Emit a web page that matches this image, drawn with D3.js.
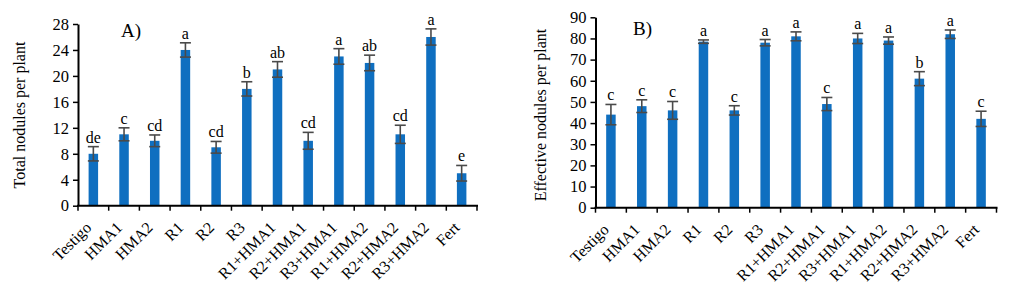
<!DOCTYPE html>
<html>
<head>
<meta charset="utf-8">
<script src="https://cdn.jsdelivr.net/npm/d3@7"></script>
<style>
  body { margin: 0; background: #fff; }
  text { font-family: "Liberation Serif", "Times New Roman", serif; fill: #000; }
</style>
</head>
<body>
<div id="general"></div>
<script>
const treatments = ["Testigo", "HMA1", "HMA2", "R1", "R2", "R3", "R1+HMA1", "R2+HMA1", "R3+HMA1", "R1+HMA2", "R2+HMA2", "R3+HMA2", "Fert"];

const totalNodules = [8, 11, 10, 24, 9, 18, 21, 10, 23, 22, 11, 26, 5];
const totalErr = [1.1, 1, 0.9, 1.1, 0.9, 1.1, 1.2, 1.3, 1.2, 1.2, 1.4, 1.25, 1.2];
const totalLetters = ["de", "c", "cd", "a", "cd", "b", "ab", "cd", "a", "ab", "cd", "a", "e"];
const totalTicks = [0, 4, 8, 12, 16, 20, 24, 28];

const effNodules = [44, 48, 46, 78.5, 46, 78, 81, 49, 80, 79, 61, 82, 42];
const effErr = [4.8, 3, 4.2, 0.8, 2.2, 1.5, 2.1, 3.1, 2.4, 1.7, 3.3, 2, 3.6];
const effLetters = ["c", "c", "c", "a", "c", "a", "a", "c", "a", "a", "b", "a", "c"];
const effTicks = [0, 10, 20, 30, 40, 50, 60, 70, 80, 90];

const W = 1031, H = 301;
const colbar = "#0f6fc0";
const colerr = "#4a4a4a";

const svg = d3.select("#general").append("svg").attr("width", W).attr("height", H);

makePanel({
  x0: 78, x1: 477, yTop: 24, yBot: 205.7, max: 28,
  values: totalNodules, errs: totalErr, letters: totalLetters, ticks: totalTicks,
  title: "A)", titleX: 121, titleY: 37, ylabel: "Total nodules per plant", ylabelX: 25
});

makePanel({
  x0: 595.5, x1: 996.5, yTop: 17.3, yBot: 207.7, max: 90,
  values: effNodules, errs: effErr, letters: effLetters, ticks: effTicks,
  title: "B)", titleX: 633, titleY: 35, ylabel: "Effective nodules per plant", ylabelX: 546
});

function makePanel(o) {
  const g = svg.append("g");
  const x = d3.scaleBand().domain(treatments).range([o.x0, o.x1]);
  const y = d3.scaleLinear().domain([0, o.max]).range([o.yBot, o.yTop]);
  const bw = 9.5, cw = 11;

  // bars
  g.selectAll("rect.bar")
    .data(o.values)
    .join("rect")
      .attr("class", "bar")
      .attr("x", (d, i) => x(treatments[i]) + x.bandwidth() / 2 - bw / 2)
      .attr("y", d => y(d))
      .attr("width", bw)
      .attr("height", d => y(0) - y(d))
      .attr("fill", colbar);

  // error bars
  const eb = g.selectAll("g.err")
    .data(o.values.map((v, i) => ({ v, e: o.errs[i], c: x(treatments[i]) + x.bandwidth() / 2 })))
    .join("g")
      .attr("class", "err")
      .attr("stroke", colerr)
      .attr("stroke-width", 1.6);
  eb.append("line")
    .attr("x1", d => d.c).attr("x2", d => d.c)
    .attr("y1", d => y(d.v - d.e)).attr("y2", d => y(d.v + d.e));
  eb.append("line")
    .attr("x1", d => d.c - cw / 2).attr("x2", d => d.c + cw / 2)
    .attr("y1", d => y(d.v + d.e)).attr("y2", d => y(d.v + d.e));
  eb.append("line")
    .attr("x1", d => d.c - cw / 2).attr("x2", d => d.c + cw / 2)
    .attr("y1", d => y(d.v - d.e)).attr("y2", d => y(d.v - d.e));

  // letters
  g.selectAll("text.lett")
    .data(o.letters)
    .join("text")
      .attr("class", "lett")
      .attr("x", (d, i) => x(treatments[i]) + x.bandwidth() / 2)
      .attr("y", (d, i) => y(o.values[i] + o.errs[i]) - 4)
      .attr("text-anchor", "middle")
      .attr("font-size", 16)
      .text(d => d);

  // y axis
  const yAxis = g.append("g")
    .attr("transform", `translate(${o.x0},0)`)
    .call(d3.axisLeft(y).tickValues(o.ticks).tickSize(5).tickPadding(4).tickSizeOuter(0));
  yAxis.select(".domain").attr("stroke", "#000").attr("stroke-width", 2);
  yAxis.selectAll(".tick line").attr("stroke", "#000").attr("stroke-width", 1.5);
  yAxis.selectAll(".tick text")
    .attr("font-family", "Liberation Serif, Times New Roman, serif")
    .attr("font-size", 16.5).attr("fill", "#000");

  // x axis: ticks at category boundaries
  const xg = g.append("g");
  xg.append("line")
    .attr("x1", o.x0 - 1).attr("x2", o.x1 + 1)
    .attr("y1", o.yBot).attr("y2", o.yBot)
    .attr("stroke", "#000").attr("stroke-width", 2);
  const bounds = treatments.map(t => x(t)).concat([o.x1]);
  xg.selectAll("line.tk")
    .data(bounds)
    .join("line")
      .attr("class", "tk")
      .attr("x1", d => d).attr("x2", d => d)
      .attr("y1", o.yBot).attr("y2", o.yBot + 5)
      .attr("stroke", "#000").attr("stroke-width", 1.5);
  xg.selectAll("text.xl")
    .data(treatments)
    .join("text")
      .attr("class", "xl")
      .attr("text-anchor", "end")
      .attr("font-size", 16)
      .attr("transform", d => `translate(${x(d) + x.bandwidth() / 2 - 1},${o.yBot + 23}) rotate(-45)`)
      .text(d => d);

  // title
  g.append("text")
    .attr("x", o.titleX).attr("y", o.titleY)
    .attr("font-size", 19)
    .text(o.title);

  // y label
  g.append("text")
    .attr("transform", `translate(${o.ylabelX},115) rotate(-90)`)
    .attr("text-anchor", "middle")
    .attr("font-size", 16)
    .text(o.ylabel);
}
</script>
</body>
</html>
